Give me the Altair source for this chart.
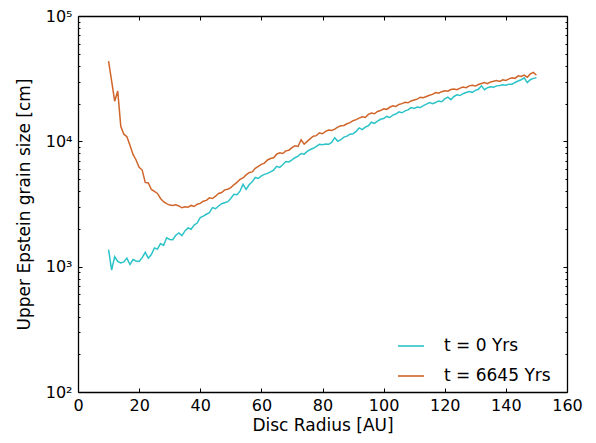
import altair as alt
import pandas as pd

radius = list(range(10, 151))

grain_t0 = [
    1370, 940, 1200, 1100, 1070, 1090, 1170, 1040, 1140, 1110,
    1100, 1180, 1300, 1170, 1250, 1410, 1380, 1530, 1480, 1700,
    1650, 1640, 1780, 1860, 1770, 1930, 2040, 1990, 2150, 2230,
    2460, 2530, 2620, 2700, 2960, 2900, 3050, 3180, 3240, 3300,
    3500, 3780, 3750, 4000, 4530, 4130, 4500, 4750, 5150, 5050,
    5300, 5450, 5550, 5700, 5900, 6320, 6200, 6500, 6900, 6850,
    7100, 7400, 7620, 8000, 7900, 8300, 8600, 8800, 9100, 9460,
    9400, 9500, 9460, 9800, 10700, 10000, 10300, 10800, 11000, 11400,
    11500, 12000, 12800, 12400, 13000, 13300, 14200, 13900, 14500, 15000,
    15200, 15800, 15500, 16200, 16500, 17200, 16900, 17500, 17800, 18600,
    18300, 18800, 18600, 19300, 19800, 20400, 20000, 20400, 21000, 20700,
    21800, 22500, 21500, 22800, 23500, 23200, 24000, 24500, 25000, 24600,
    25500, 26000, 27700, 25800, 26800, 27300, 27000, 27700, 27900, 28300,
    28000, 28600, 28600, 29500, 30300, 31000, 32100, 29400, 31000, 31800,
    32100,
]

grain_t6645 = [
    43600, 30400, 20900, 25200, 13200, 11400, 10900, 9300, 7870, 7100,
    6200, 5900, 4700, 4650, 4130, 3980, 3840, 3500, 3300, 3180,
    3100, 3080, 3120, 3050, 2950, 3000, 2980, 3080, 3020, 3150,
    3200, 3330, 3380, 3540, 3500, 3650, 3840, 3900, 4100, 4150,
    4270, 4500, 4700, 4970, 5100, 5400, 5630, 5700, 6100, 6300,
    6550, 6700, 7100, 7290, 7400, 7900, 8110, 8000, 8400, 8500,
    8900, 9200, 9100, 10300, 9500, 10000, 10500, 11000, 11100, 11700,
    11500, 12000, 12300, 12200, 12500, 13000, 13300, 13400, 13800, 14100,
    14600, 14900, 15300, 15700, 15500, 16400, 16800, 16600, 17300, 17600,
    18200, 18000, 18700, 19200, 19000, 19700, 20000, 20500, 20300, 21000,
    21400, 21700, 22500, 22300, 22800, 23300, 23700, 24500, 24200, 24900,
    25300, 25100, 25900, 26100, 25800, 26600, 27100, 26800, 27700, 28000,
    27600, 28400, 28900, 29400, 28800, 29800, 30200, 30600, 30100, 31000,
    30600, 31500, 32100, 31800, 33300, 32900, 33800, 32500, 34500, 35500,
    33700,
]

series_labels = ["t = 0 Yrs", "t = 6645 Yrs"]
series_colors = ["#2cc3c8", "#d0652a"]

x_ticks = [0, 20, 40, 60, 80, 100, 120, 140, 160]
y_major = [100, 1000, 10000, 100000]
y_minor = [m * d for d in (100, 1000, 10000) for m in range(2, 10)]

df = pd.concat([
    pd.DataFrame({"r": radius, "a": grain_t0, "series": series_labels[0]}),
    pd.DataFrame({"r": radius, "a": grain_t6645, "series": series_labels[1]}),
])

W, H = 489, 376
FONT = "DejaVu Sans"

xscale = alt.Scale(domain=[0, 160], nice=False, zero=False)
yscale = alt.Scale(type="log", domain=[100, 100000], nice=False)

label_expr = ("'10' + (datum.value == 100 ? '²' : datum.value == 1000 ? '³' : "
              "datum.value == 10000 ? '⁴' : '⁵')")

base = alt.Chart(df)

# Visible lines with labelled axes (no ticks)
lines = base.mark_line(strokeWidth=1.5, clip=True).encode(
    x=alt.X("r:Q", scale=xscale, axis=alt.Axis(
        title="Disc Radius [AU]", values=x_ticks, ticks=False, domain=False,
        grid=False, labelPadding=5, labelFontSize=16, titleFontSize=17,
        labelFont=FONT, titleFont=FONT, labelColor="black", titleColor="black",
        titleFontWeight="normal", labelFlush=False, labelOverlap=False,
        labelBound=False, titlePadding=4, format="d")),
    y=alt.Y("a:Q", scale=yscale, axis=alt.Axis(
        title="Upper Epstein grain size [cm]", values=y_major, ticks=False,
        domain=False, grid=False, labelPadding=6, labelFontSize=16,
        titleFontSize=17, labelFont=FONT, titleFont=FONT, labelColor="black",
        titleColor="black", titleFontWeight="normal", labelExpr=label_expr,
        labelFlush=False, labelOverlap=False, labelBound=False, titlePadding=12)),
    color=alt.Color("series:N", scale=alt.Scale(domain=series_labels, range=series_colors),
                    legend=alt.Legend(
                        title=None, orient="none", legendX=319, legendY=316,
                        symbolType="stroke", symbolSize=680, symbolStrokeWidth=1.6,
                        labelFontSize=17, labelFont=FONT, labelColor="black",
                        labelOffset=19, rowPadding=8, padding=0)),
)


def tick_layer(x_axis, y_axis):
    return base.mark_point(opacity=0).encode(
        x=alt.X("r:Q", scale=xscale, axis=x_axis),
        y=alt.Y("a:Q", scale=yscale, axis=y_axis),
    )


def tick_axis(orient, values, size, offset, domain):
    return alt.Axis(orient=orient, values=values, labels=False, title=None,
                    domain=domain, domainColor="black", domainWidth=1.3,
                    grid=False, ticks=True, tickSize=size,
                    tickColor="black", tickWidth=1, offset=offset)


# bottom edge, ticks pointing up; left edge major ticks pointing right
layer_b = tick_layer(tick_axis("top", x_ticks, 4, -H, True),
                     tick_axis("right", y_major, 4, -W, True))
# top edge, ticks pointing down; right edge major ticks pointing left
layer_c = tick_layer(tick_axis("bottom", x_ticks, 4, -H, True),
                     tick_axis("left", y_major, 4, -W, True))
# minor ticks: left edge (pointing right) and right edge (pointing left)
layer_d = tick_layer(None, tick_axis("right", y_minor, 2, -W, False))
layer_e = tick_layer(None, tick_axis("left", y_minor, 2, -W, False))

chart = alt.layer(lines, layer_b, layer_c, layer_d, layer_e).resolve_axis(
    x="independent", y="independent"
).properties(
    width=W, height=H,
    autosize=alt.AutoSizeParams(type="none"),
    padding={"left": 78, "top": 16, "right": 29, "bottom": 51},
).configure_view(stroke=None).configure(background="white")

chart.save("out.html", embed_options={"renderer": "svg", "actions": False})
